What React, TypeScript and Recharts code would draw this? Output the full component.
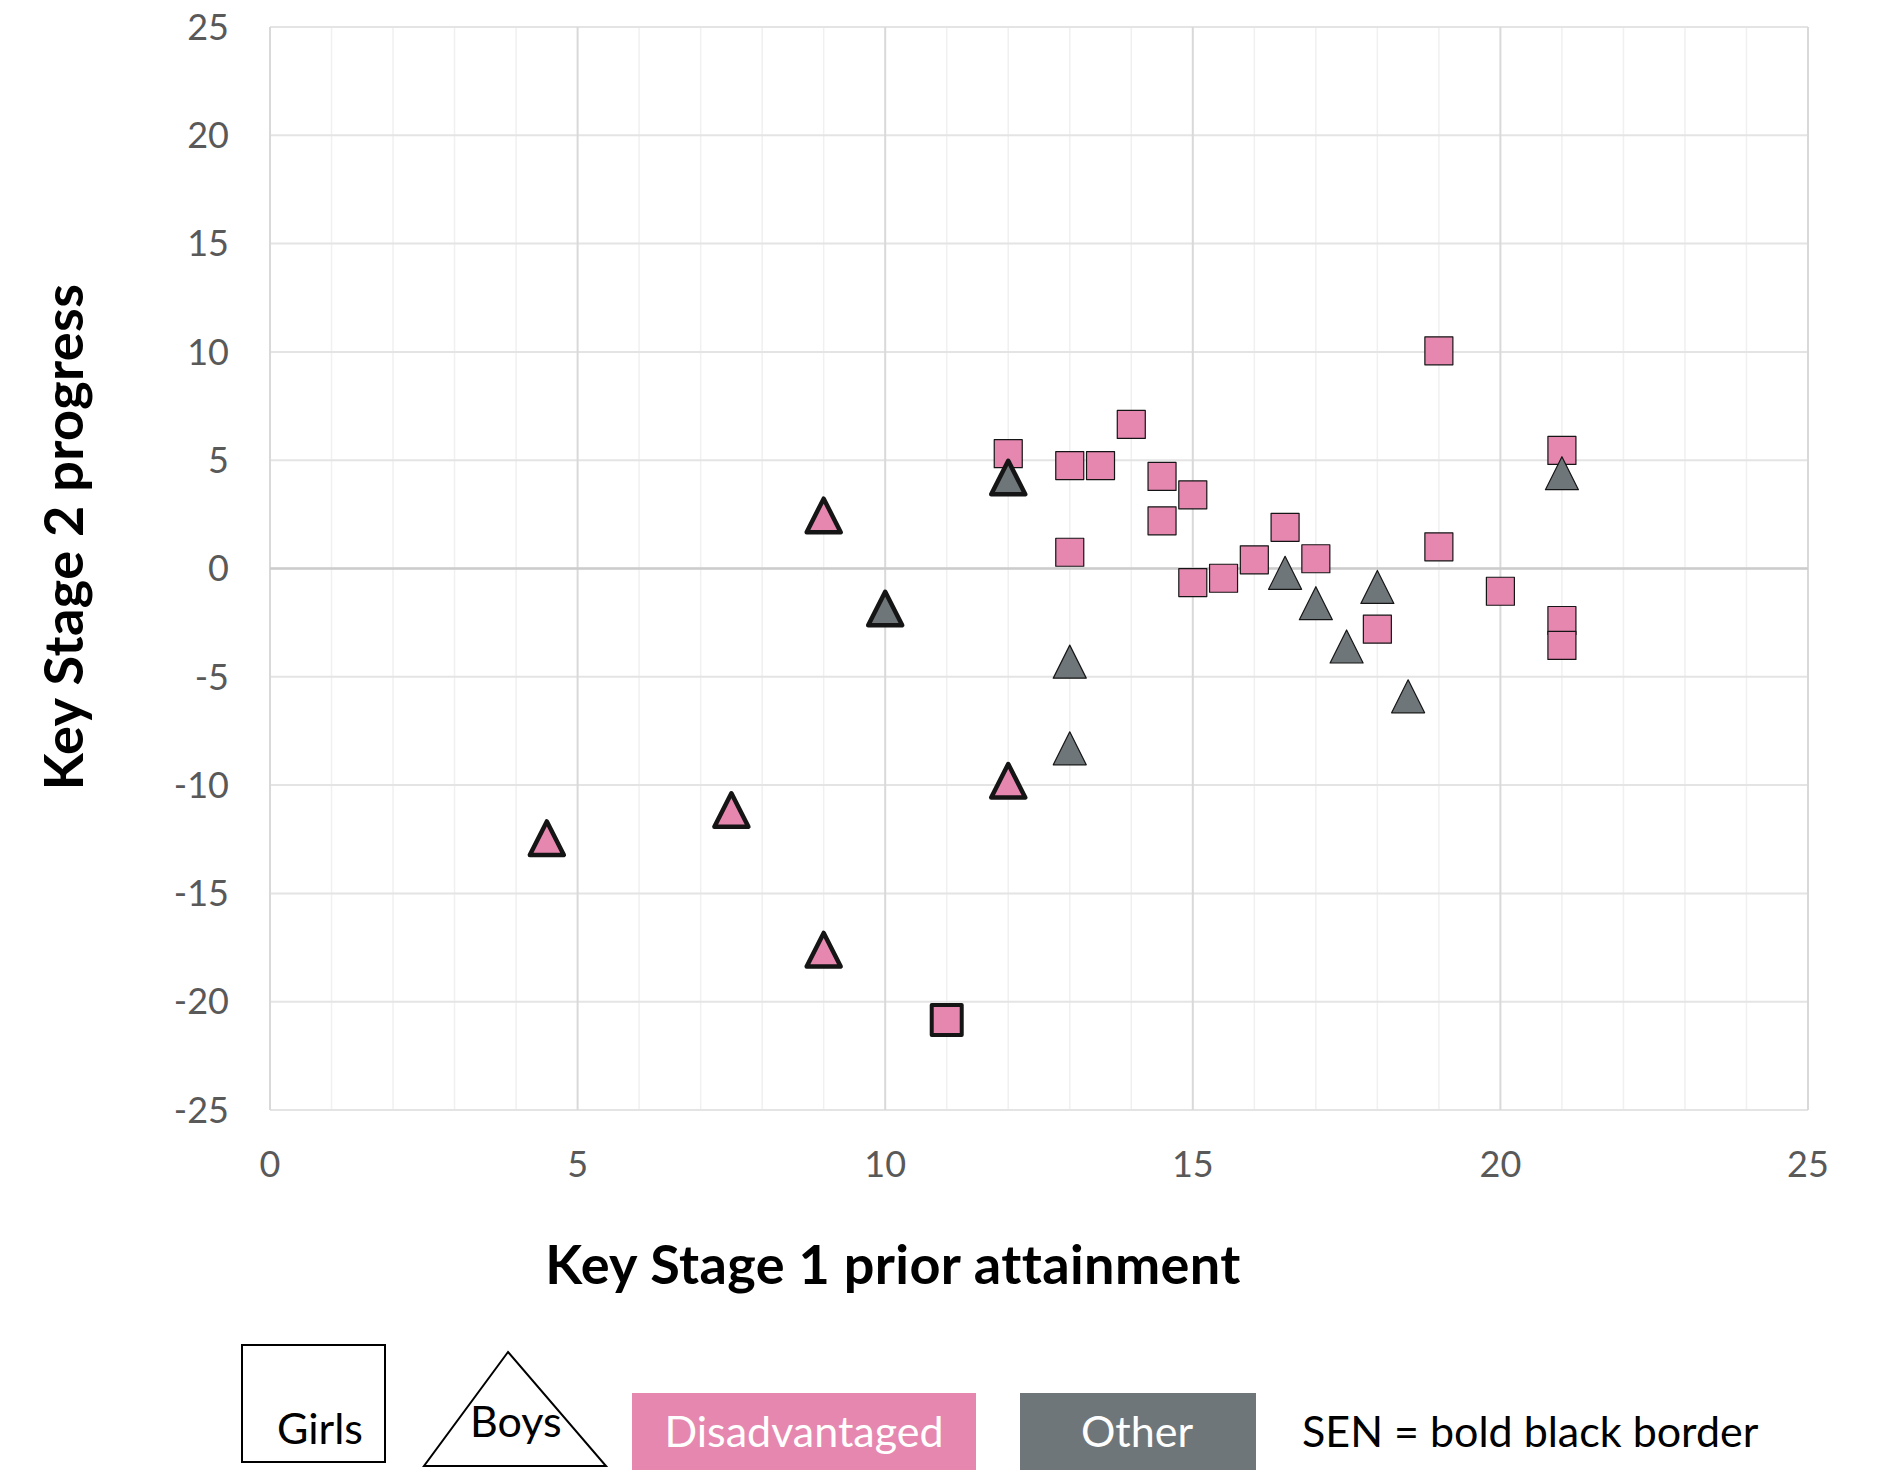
import React from "react";
import { ScatterChart, Scatter, XAxis, YAxis, CartesianGrid, ReferenceLine } from "recharts";

const xTicks = [0, 5, 10, 15, 20, 25];
const yTicks = [-25, -20, -15, -10, -5, 0, 5, 10, 15, 20, 25];
const minorX = [1, 2, 3, 4, 6, 7, 8, 9, 11, 12, 13, 14, 16, 17, 18, 19, 21, 22, 23, 24];

// disadvantaged girls (pink squares)
const disGirlsX = [12, 13, 13.5, 14, 14.5, 14.5, 15, 13, 15, 15.5, 16, 16.5, 17, 18, 19, 19, 20, 21, 21, 21];
const disGirlsY = [5.3, 4.75, 4.75, 6.65, 4.25, 2.2, 3.4, 0.75, -0.65, -0.45, 0.4, 1.9, 0.45, -2.8, 10.05, 1.0, -1.05, 5.45, -2.4, -3.55];

// other boys (grey triangles)
const otherBoysX = [16.5, 17, 18, 17.5, 18.5, 13, 13, 21];
const otherBoysY = [-0.2, -1.6, -0.85, -3.6, -5.9, -4.3, -8.3, 4.4];

// SEN
const senDisBoysX = [9, 4.5, 7.5, 12, 9];
const senDisBoysY = [2.45, -12.45, -11.15, -9.8, -17.6];
const senOtherBoysX = [12, 10];
const senOtherBoysY = [4.2, -1.85];
const senDisGirlsX = [11];
const senDisGirlsY = [-20.85];

const PINK = "#E687B0";
const GREY = "#6F7679";
const FONT = "Lato, 'Open Sans', sans-serif";

const zip = (xs: number[], ys: number[]) => xs.map((x, i) => ({ x, y: ys[i] }));

const square = (fill: string, size: number, sw: number) => (p: any) => (
  <rect
    x={p.cx - size / 2}
    y={p.cy - size / 2}
    width={size}
    height={size}
    fill={fill}
    stroke="#151515"
    strokeWidth={sw}
    strokeLinejoin="round"
  />
);

const triangle = (fill: string, w: number, h: number, sw: number) => (p: any) => (
  <path
    d={`M${p.cx},${p.cy - h / 2}L${p.cx + w / 2},${p.cy + h / 2}L${p.cx - w / 2},${p.cy + h / 2}Z`}
    fill={fill}
    stroke="#151515"
    strokeWidth={sw}
    strokeLinejoin="round"
  />
);

const tickStyle = { fill: "#595959", fontSize: 36, fontFamily: FONT };

const legendText = { position: "absolute" as const, fontFamily: FONT, fontSize: 43, lineHeight: "52px", whiteSpace: "nowrap" as const };

const titleStyle = {
  position: "absolute" as const,
  fontFamily: FONT,
  fontWeight: 700,
  fontSize: 54,
  letterSpacing: 0.4,
  whiteSpace: "nowrap" as const,
  color: "#000",
};

export default function App() {
  return (
    <div style={{ position: "relative", width: 1889, height: 1470, background: "#fff", overflow: "hidden" }}>
      <style>{`body{margin:0}`}</style>
      <ScatterChart width={1889} height={1470} margin={{ top: 27, right: 81, bottom: 300, left: 150 }}>
        <CartesianGrid horizontal={false} verticalValues={minorX} stroke="#f0f0f0" strokeWidth={1.5} />
        <CartesianGrid vertical={false} stroke="#e4e4e4" strokeWidth={2} />
        <CartesianGrid horizontal={false} stroke="#d9d9d9" strokeWidth={2} />
        <XAxis
          type="number"
          dataKey="x"
          domain={[0, 25]}
          ticks={xTicks}
          height={60}
          axisLine={false}
          tickLine={false}
          tickSize={0}
          tickMargin={41}
          tick={tickStyle}
        />
        <YAxis
          type="number"
          dataKey="y"
          domain={[-25, 25]}
          ticks={yTicks}
          width={120}
          axisLine={false}
          tickLine={false}
          tickSize={0}
          tickMargin={41}
          tick={tickStyle}
        />
        <ReferenceLine y={0} stroke="#cccccc" strokeWidth={2.5} />
        <Scatter data={zip(disGirlsX, disGirlsY)} shape={square(PINK, 28, 1.2)} isAnimationActive={false} />
        <Scatter data={zip(otherBoysX, otherBoysY)} shape={triangle(GREY, 33, 33, 1.2)} isAnimationActive={false} />
        <Scatter data={zip(senDisGirlsX, senDisGirlsY)} shape={square(PINK, 30, 4)} isAnimationActive={false} />
        <Scatter data={zip(senDisBoysX, senDisBoysY)} shape={triangle(PINK, 34, 33.5, 4.5)} isAnimationActive={false} />
        <Scatter data={zip(senOtherBoysX, senOtherBoysY)} shape={triangle(GREY, 34, 33.5, 4.5)} isAnimationActive={false} />
      </ScatterChart>

      {/* axis titles */}
      <div style={{ position: "absolute", left: 893, top: 1263, width: 0, height: 0 }}>
        <div style={{ ...titleStyle, transform: "translate(-50%, -50%)" }}>Key Stage 1 prior attainment</div>
      </div>
      <div style={{ position: "absolute", left: 62, top: 537, width: 0, height: 0 }}>
        <div style={{ ...titleStyle, transform: "translate(-50%, -50%) rotate(-90deg)" }}>Key Stage 2 progress</div>
      </div>

      {/* legend shapes drawn as shapes in the sheet */}
      <div style={{ position: "absolute", left: 241, top: 1344, width: 141, height: 115, border: "2px solid #000" }} />
      <div style={{ ...legendText, left: 277, top: 1402, color: "#000" }}>Girls</div>
      <svg style={{ position: "absolute", left: 420, top: 1348 }} width={192} height={122}>
        <path d="M88,4L186,118L4,118Z" fill="#fff" stroke="#000" strokeWidth={2} />
      </svg>
      <div style={{ ...legendText, left: 470, top: 1395, color: "#000" }}>Boys</div>
      <div style={{ position: "absolute", left: 632, top: 1393, width: 344, height: 80, background: PINK }} />
      <div style={{ ...legendText, left: 804, top: 1405, color: "#fff", transform: "translateX(-50%)" }}>Disadvantaged</div>
      <div style={{ position: "absolute", left: 1020, top: 1393, width: 236, height: 80, background: GREY }} />
      <div style={{ ...legendText, left: 1137, top: 1405, color: "#fff", transform: "translateX(-50%)" }}>Other</div>
      <div style={{ ...legendText, left: 1302, top: 1405, color: "#000" }}>SEN = bold black border</div>
    </div>
  );
}
